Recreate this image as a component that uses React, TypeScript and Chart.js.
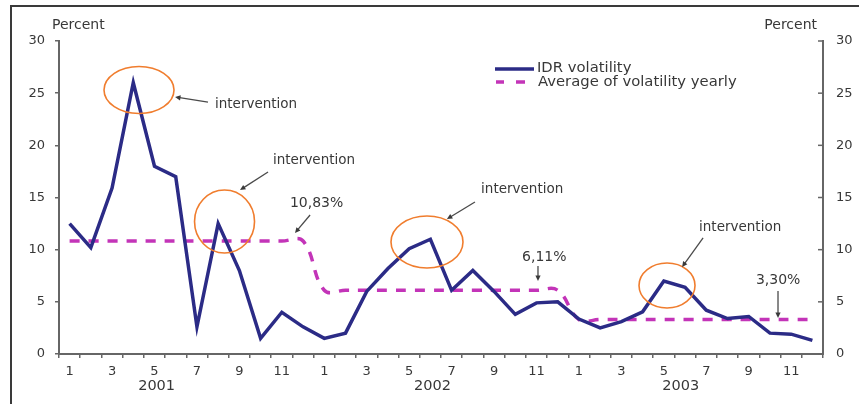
import React, { useEffect, useRef } from "react";
import { Chart, registerables } from "chart.js";

Chart.register(...registerables);

// ---------- data ----------
const years = ["2001", "2002", "2003"];
const months = ["1", "2", "3", "4", "5", "6", "7", "8", "9", "10", "11", "12"];
const categories = years.flatMap((yr) => months.map((m) => `${m}/${yr}`));
const monthLabels = years.flatMap(() => months);

const idrVolatility = [
  12.5, 10.2, 15.9, 26.0, 18.0, 17.0, 2.6, 12.5, 8.0, 1.5, 4.0, 2.6,
  1.5, 2.0, 6.0, 8.2, 10.1, 11.0, 6.1, 8.0, 6.0, 3.8, 4.9, 5.0,
  3.35, 2.5, 3.1, 4.05, 7.0, 6.4, 4.2, 3.4, 3.6, 2.0, 1.9, 1.3,
];
const yearlyAverage = [10.83, 6.11, 3.3];
const averageSeries = yearlyAverage.flatMap((v) => months.map(() => v));
const averageLabels = ["10,83%", "6,11%", "3,30%"];
const yMin = 0;
const yMax = 30;
const yStep = 5;
const seriesNames = ["IDR volatility", "Average of volatility yearly"];
const axisTitle = "Percent";

// annotation anchors in (category index, value) space
const yearLabelPos = [4.1, 17.1, 28.8];
const ellipses = [
  { i: 3.27, v: 25.3, rx: 35, ry: 23.5 },
  { i: 7.3, v: 12.7, rx: 30, ry: 31.5 },
  { i: 16.84, v: 10.73, rx: 36, ry: 26 },
  { i: 28.15, v: 6.57, rx: 28, ry: 22.5 },
];
const interventionNotes = [
  { i: 6.85, v: 23.96, a: [6.52, 24.15, 4.97, 24.63] },
  { i: 9.58, v: 18.5, a: [9.35, 17.44, 8.03, 15.72] },
  { i: 19.39, v: 15.72, a: [19.1, 14.57, 17.78, 12.94] },
  { i: 29.66, v: 12.17, a: [29.85, 11.12, 28.86, 8.34] },
];
const averageNotes = [
  { i: 10.38, v: 14.47, a: [11.33, 13.32, 10.62, 11.6] },
  { i: 21.32, v: 9.3, a: [22.07, 8.43, 22.07, 7.0] },
  { i: 32.34, v: 7.09, a: [33.38, 6.04, 33.38, 3.45] },
];

// ---------- styles ----------
const NAVY = "#2b2b86";
const MAGENTA = "#c334b8";
const ORANGE = "#f07d2e";
const TEXT = "#383838";
const AXIS = "#666666";
const FONT = "'DejaVu Sans', 'Liberation Sans', sans-serif";

function arrow(ctx: CanvasRenderingContext2D, x1: number, y1: number, x2: number, y2: number) {
  const ang = Math.atan2(y2 - y1, x2 - x1);
  const hl = 6;
  ctx.beginPath();
  ctx.moveTo(x1, y1);
  ctx.lineTo(x2 - Math.cos(ang) * 3, y2 - Math.sin(ang) * 3);
  ctx.stroke();
  ctx.beginPath();
  ctx.moveTo(x2, y2);
  ctx.lineTo(x2 - hl * Math.cos(ang - 0.45), y2 - hl * Math.sin(ang - 0.45));
  ctx.lineTo(x2 - hl * Math.cos(ang + 0.45), y2 - hl * Math.sin(ang + 0.45));
  ctx.closePath();
  ctx.fill();
}

const overlayPlugin = {
  id: "overlay",
  afterDraw(chart: any) {
    const ctx: CanvasRenderingContext2D = chart.ctx;
    const xs = chart.scales.x;
    const ys = chart.scales.y;
    const ca = chart.chartArea;
    const px = (i: number) => xs.getPixelForValue(i);
    const py = (v: number) => ys.getPixelForValue(v);
    ctx.save();

    // frame
    ctx.strokeStyle = "#3a3a3a";
    ctx.lineWidth = 2;
    ctx.beginPath();
    ctx.moveTo(11, chart.height);
    ctx.lineTo(11, 6);
    ctx.lineTo(chart.width, 6);
    ctx.stroke();

    // right axis inward ticks
    ctx.strokeStyle = AXIS;
    ctx.lineWidth = 1.5;
    for (let v = yMin; v <= yMax; v += yStep) {
      ctx.beginPath();
      ctx.moveTo(ca.right, py(v));
      ctx.lineTo(ca.right - 5, py(v));
      ctx.stroke();
    }

    // axis titles
    ctx.fillStyle = TEXT;
    ctx.font = `14px ${FONT}`;
    ctx.textBaseline = "middle";
    ctx.textAlign = "left";
    ctx.fillText(axisTitle, 52, 25);
    ctx.textAlign = "right";
    ctx.fillText(axisTitle, 817, 25);

    // year labels
    ctx.textAlign = "center";
    ctx.font = `14.5px ${FONT}`;
    years.forEach((yr, k) => ctx.fillText(yr, px(yearLabelPos[k]), 386));

    // legend
    ctx.lineWidth = 3.5;
    ctx.strokeStyle = NAVY;
    ctx.beginPath();
    ctx.moveTo(495, 69);
    ctx.lineTo(534, 69);
    ctx.stroke();
    ctx.strokeStyle = MAGENTA;
    ctx.beginPath();
    ctx.moveTo(496, 82);
    ctx.lineTo(504, 82);
    ctx.moveTo(516, 82);
    ctx.lineTo(525, 82);
    ctx.stroke();
    ctx.fillStyle = TEXT;
    ctx.font = `14.8px ${FONT}`;
    ctx.textAlign = "left";
    ctx.fillText(seriesNames[0], 537, 68);
    ctx.fillText(seriesNames[1], 538, 82);

    // ellipses
    ctx.strokeStyle = ORANGE;
    ctx.lineWidth = 1.6;
    ellipses.forEach((e) => {
      ctx.beginPath();
      ctx.ellipse(px(e.i), py(e.v), e.rx, e.ry, 0, 0, Math.PI * 2);
      ctx.stroke();
    });

    // notes + arrows
    ctx.strokeStyle = "#4a4a4a";
    ctx.fillStyle = "#3a3a3a";
    ctx.lineWidth = 1.3;
    [...interventionNotes, ...averageNotes].forEach((n) => {
      arrow(ctx, px(n.a[0]), py(n.a[1]), px(n.a[2]), py(n.a[3]));
    });
    ctx.fillStyle = TEXT;
    ctx.textAlign = "left";
    ctx.font = `13.5px ${FONT}`;
    interventionNotes.forEach((n) => ctx.fillText("intervention", px(n.i), py(n.v)));
    ctx.font = `14px ${FONT}`;
    averageNotes.forEach((n, k) => ctx.fillText(averageLabels[k], px(n.i), py(n.v)));

    ctx.restore();
  },
};

export default function App() {
  const ref = useRef<HTMLCanvasElement | null>(null);
  useEffect(() => {
    if (!ref.current) return;
    const chart = new Chart(ref.current, {
      type: "line",
      data: {
        labels: categories,
        datasets: [
          {
            label: seriesNames[0],
            data: idrVolatility,
            borderColor: NAVY,
            backgroundColor: NAVY,
            borderWidth: 3.5,
            pointRadius: 0,
            tension: 0,
            yAxisID: "y",
          },
          {
            label: seriesNames[1],
            data: averageSeries,
            borderColor: MAGENTA,
            backgroundColor: MAGENTA,
            borderWidth: 3.5,
            borderDash: [10, 9],
            pointRadius: 0,
            tension: 0.4,
            yAxisID: "y",
          },
        ],
      },
      options: {
        responsive: false,
        animation: false,
        devicePixelRatio: 1,
        layout: { padding: { top: 41, left: 0, right: 0, bottom: 0 } },
        plugins: { legend: { display: false }, tooltip: { enabled: false } },
        scales: {
          x: {
            type: "category",
            offset: true,
            grid: { display: true, offset: true, drawOnChartArea: false, drawTicks: true, tickLength: 4, color: AXIS, lineWidth: 1.5 },
            border: { display: true, color: AXIS, width: 2 },
            ticks: {
              autoSkip: false,
              maxRotation: 0,
              padding: 6,
              color: TEXT,
              font: { family: FONT, size: 13 },
              callback: (_v: any, idx: number) => (idx % 2 === 0 ? monthLabels[idx] : ""),
            },
            afterFit: (s: any) => { s.height = 50; },
          },
          y: {
            position: "left",
            min: yMin,
            max: yMax,
            grid: { display: true, drawOnChartArea: false, drawTicks: true, tickLength: 4, color: AXIS, lineWidth: 1.5 },
            border: { display: true, color: AXIS, width: 2 },
            ticks: { stepSize: yStep, padding: 10, color: TEXT, font: { family: FONT, size: 13 } },
            afterFit: (s: any) => { s.width = 59; },
          },
          y2: {
            position: "right",
            min: yMin,
            max: yMax,
            grid: { display: false, drawTicks: false },
            border: { display: true, color: AXIS, width: 2 },
            ticks: { stepSize: yStep, padding: 13, color: TEXT, font: { family: FONT, size: 13 } },
            afterFit: (s: any) => { s.width = 36; },
          },
        },
      },
      plugins: [overlayPlugin],
    });
    return () => chart.destroy();
  }, []);
  return (
    <div style={{ position: "fixed", left: 0, top: 0, width: 859, height: 404, background: "#fff" }}>
      <canvas ref={ref} width={859} height={404} style={{ display: "block" }} />
    </div>
  );
}
